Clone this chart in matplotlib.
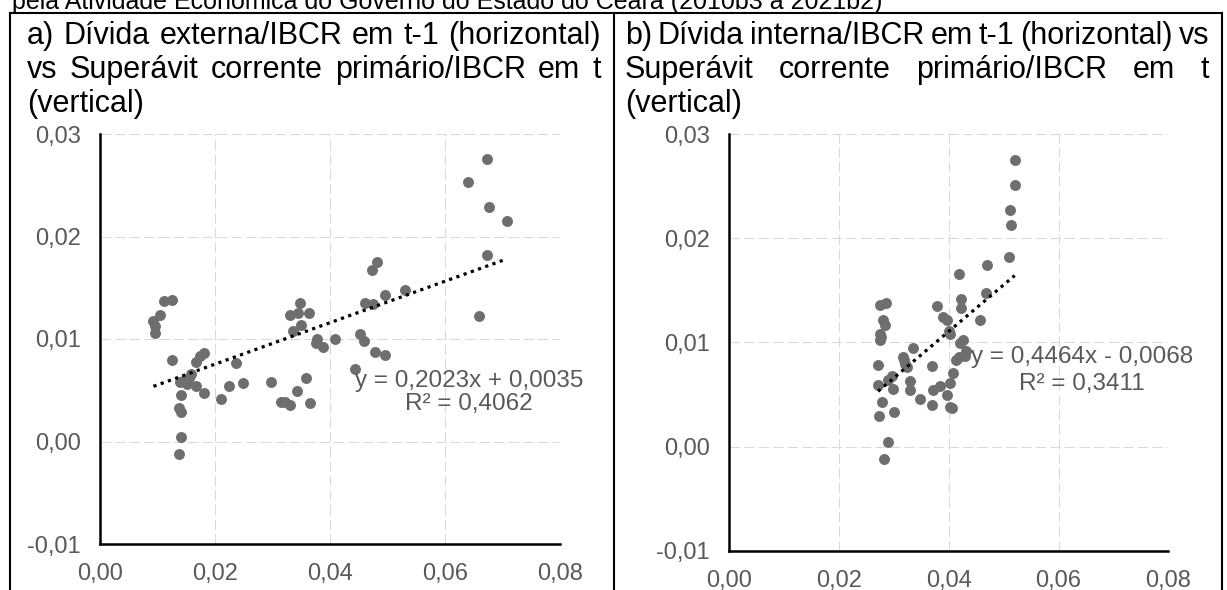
import matplotlib
matplotlib.use("Agg")
import matplotlib.pyplot as plt
import numpy as np
from matplotlib.lines import Line2D
from matplotlib.ticker import FuncFormatter, MultipleLocator

plt.rcParams["font.family"] = ["Liberation Sans", "DejaVu Sans"]

W, H = 1227, 590

# panel a: external debt/IBCR (t-1) vs primary current surplus/IBCR (t)
ext_x = [0.0111, 0.0125, 0.0093, 0.0104, 0.0095, 0.0095, 0.0125, 0.0180, 0.0174, 0.0167,
         0.0159, 0.0154, 0.0145, 0.0139, 0.0152, 0.0167, 0.0181, 0.0141, 0.0137, 0.0140,
         0.0141, 0.0137, 0.0237, 0.0225, 0.0249, 0.0211, 0.0298, 0.0314, 0.0322, 0.0330,
         0.0342, 0.0358, 0.0365, 0.0347, 0.0330, 0.0344, 0.0363, 0.0349, 0.0336, 0.0377,
         0.0375, 0.0388, 0.0409, 0.0673, 0.0640, 0.0677, 0.0707, 0.0673, 0.0659, 0.0482,
         0.0473, 0.0495, 0.0531, 0.0460, 0.0475, 0.0452, 0.0459, 0.0479, 0.0495, 0.0444]
ext_y = [0.0137, 0.0138, 0.0118, 0.0123, 0.0113, 0.0106, 0.0080, 0.0086, 0.0083, 0.0078,
         0.0066, 0.0062, 0.0059, 0.0058, 0.0056, 0.0054, 0.0047, 0.0045, 0.0033, 0.0029,
         0.0004, -0.0012, 0.0077, 0.0054, 0.0057, 0.0041, 0.0058, 0.0039, 0.0039, 0.0036,
         0.0049, 0.0062, 0.0038, 0.0135, 0.0123, 0.0125, 0.0125, 0.0114, 0.0108, 0.0100,
         0.0096, 0.0092, 0.0100, 0.0276, 0.0253, 0.0229, 0.0215, 0.0182, 0.0122, 0.0175,
         0.0167, 0.0143, 0.0148, 0.0135, 0.0134, 0.0105, 0.0098, 0.0087, 0.0084, 0.0071]
ext_fit = (0.2023, 0.0035)
ext_eq = ["y = 0,2023x + 0,0035", "R² = 0,4062"]

# panel b: internal debt/IBCR (t-1) vs primary current surplus/IBCR (t)
int_x = [0.0520, 0.0520, 0.0512, 0.0514, 0.0509, 0.0470, 0.0419, 0.0423, 0.0422, 0.0467,
         0.0457, 0.0379, 0.0389, 0.0396, 0.0401, 0.0402, 0.0425, 0.0420, 0.0431, 0.0418,
         0.0335, 0.0317, 0.0430, 0.0414, 0.0408, 0.0403, 0.0397, 0.0402, 0.0406, 0.0384,
         0.0372, 0.0369, 0.0347, 0.0329, 0.0329, 0.0369, 0.0320, 0.0271, 0.0271, 0.0278,
         0.0273, 0.0301, 0.0289, 0.0282, 0.0298, 0.0290, 0.0296, 0.0318, 0.0323, 0.0275,
         0.0285, 0.0281, 0.0284, 0.0275, 0.0276, 0.0275]
int_y = [0.0275, 0.0251, 0.0227, 0.0213, 0.0182, 0.0174, 0.0166, 0.0142, 0.0133, 0.0147,
         0.0121, 0.0135, 0.0124, 0.0121, 0.0111, 0.0108, 0.0102, 0.0099, 0.0092, 0.0086,
         0.0095, 0.0086, 0.0087, 0.0083, 0.0071, 0.0061, 0.0049, 0.0038, 0.0037, 0.0058,
         0.0054, 0.0040, 0.0046, 0.0063, 0.0054, 0.0077, 0.0079, 0.0078, 0.0059, 0.0043,
         0.0029, 0.0033, 0.0004, -0.0012, 0.0055, 0.0064, 0.0068, 0.0083, 0.0076, 0.0136,
         0.0138, 0.0121, 0.0117, 0.0108, 0.0105, 0.0102]
int_fit = (0.4464, -0.0068)
int_eq = ["y = 0,4464x - 0,0068", "R² = 0,3411"]

top_line = "pela Atividade Econômica do Governo do Estado do Ceará (2010b3 a 2021b2)"
title_a = ["a) Dívida externa/IBCR em t-1 (horizontal)",
           "vs Superávit corrente primário/IBCR em t",
           "(vertical)"]
title_b = ["b) Dívida interna/IBCR em t-1 (horizontal) vs",
           "Superávit corrente primário/IBCR em t",
           "(vertical)"]

DOT = "#6e6e6e"
GREY_TXT = "#595959"
TITLE_SIZE = 22


def fpos(x, y):
    """pixel (from top-left) -> figure fraction"""
    return x / W, 1 - y / H


fig = plt.figure(figsize=(W / 100, H / 100), dpi=100)
renderer = fig.canvas.get_renderer()


def justified(line, x0, x1, y):
    words = line.split()
    texts = [fig.text(0, 0, w, fontsize=TITLE_SIZE, va="baseline") for w in words]
    widths = [t.get_window_extent(renderer).width for t in texts]
    gap = (x1 - x0 - sum(widths)) / max(len(words) - 1, 1)
    x = x0
    for t, w in zip(texts, widths):
        t.set_position(fpos(x, y))
        x += w + gap


def comma(v, _):
    return f"{round(v, 4) + 0.0:.2f}".replace(".", ",")


def panel(rect, xs, ys, fit, eq, eq_pos):
    l, t, r, b = rect
    ax = fig.add_axes([l / W, 1 - b / H, (r - l) / W, (b - t) / H])
    ax.set_xlim(0, 0.08)
    ax.set_ylim(-0.01, 0.03)
    ax.xaxis.set_major_locator(MultipleLocator(0.02))
    ax.yaxis.set_major_locator(MultipleLocator(0.01))
    ax.xaxis.set_major_formatter(FuncFormatter(comma))
    ax.yaxis.set_major_formatter(FuncFormatter(comma))
    ax.tick_params(length=0, labelsize=17, labelcolor=GREY_TXT, pad=14)
    ax.grid(True, color="#d9d9d9", lw=0.75, linestyle=(0, (10, 4)))
    ax.set_axisbelow(True)
    for s in ("top", "right"):
        ax.spines[s].set_visible(False)
    for s in ("left", "bottom"):
        ax.spines[s].set_linewidth(1.8)
        ax.spines[s].set_color("black")
        ax.spines[s].set_zorder(5)

    ax.scatter(xs, ys, s=62, color=DOT, linewidths=0, zorder=3)
    lx = np.array([min(xs), max(xs)])
    ax.plot(lx, fit[0] * lx + fit[1], color="black", lw=2.3,
            linestyle=(0, (1, 1.4)), zorder=4)

    ex, ey1, ey2 = eq_pos
    ax.text(ex, ey1, eq[0], ha="center", va="center", fontsize=17.5, color=GREY_TXT, zorder=6)
    ax.text(ex, ey2, eq[1], ha="center", va="center", fontsize=17.5, color=GREY_TXT, zorder=6)
    return ax


panel((100, 134, 560, 544), ext_x, ext_y, ext_fit, ext_eq, (0.0642, 0.0059, 0.00364))
panel((729.3, 134, 1168.3, 550.7), int_x, int_y, int_fit, int_eq, (0.0642, 0.00857, 0.00602))

# table-like frame around the two panels
for (x0, y0, x1, y1) in [(10, 13, 1222, 13), (10, 13, 10, 600),
                         (614, 13, 614, 600), (1222, 13, 1222, 600)]:
    a, b = fpos(x0, y0)
    c, d = fpos(x1, y1)
    fig.add_artist(Line2D([a, c], [b, d], transform=fig.transFigure,
                          color="black", lw=1.5))

# caption line above the table, cut off by the top edge as in the source
fig.text(*fpos(12, 9), top_line, fontsize=18, va="baseline")

baselines = [44, 78, 112]
justified(title_a[0], 27, 601, baselines[0])
justified(title_a[1], 27, 601, baselines[1])
fig.text(*fpos(27, baselines[2]), title_a[2], fontsize=TITLE_SIZE, va="baseline")
justified(title_b[0], 625, 1209, baselines[0])
justified(title_b[1], 625, 1209, baselines[1])
fig.text(*fpos(625, baselines[2]), title_b[2], fontsize=TITLE_SIZE, va="baseline")

fig.savefig("out.png", dpi=100)
